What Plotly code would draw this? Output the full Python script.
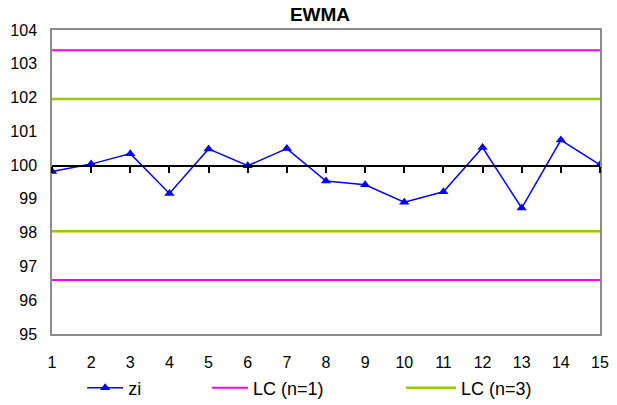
import plotly.graph_objects as go

# Sample index
samples = list(range(1, 16))

# EWMA statistic z_i
zi = [99.81, 100.03, 100.34, 99.16, 100.48, 99.98, 100.49, 99.53,
      99.42, 98.90, 99.21, 100.52, 98.73, 100.74, 100.01]

# Control limits
lc1_upper = [103.40] * 15
lc1_lower = [96.60] * 15
lc3_upper = [101.96] * 15
lc3_lower = [98.04] * 15

centre = 100
y_min, y_max = 95, 104
x_ticks = samples
y_ticks = list(range(95, 105))

FONT = "Liberation Sans, Arial, sans-serif"
MAGENTA = "#FF00FF"
LIME = "#99CC00"
BLUE = "#0000FF"
FRAME = "#8c8c8c"

centre_frac = (centre - y_min) / (y_max - y_min)

fig = go.Figure()

# Helper subplot whose bottom edge sits at y = 100: its x axis is the centre line with ticks
fig.add_trace(go.Scatter(
    x=samples, y=[centre] * 15, xaxis="x2", yaxis="y2", mode="lines",
    line=dict(color="rgba(0,0,0,0)"), showlegend=False, hoverinfo="skip",
))

fig.add_trace(go.Scatter(
    x=samples, y=lc1_upper, name="LC (n=1)", mode="lines",
    line=dict(color=MAGENTA, width=2), legendgroup="lc1", legend="legend2",
))
fig.add_trace(go.Scatter(
    x=samples, y=lc1_lower, name="LC (n=1)", mode="lines",
    line=dict(color=MAGENTA, width=2), legendgroup="lc1", showlegend=False,
))
fig.add_trace(go.Scatter(
    x=samples, y=lc3_upper, name="LC (n=3)", mode="lines",
    line=dict(color=LIME, width=2.5), legendgroup="lc3", legend="legend3",
))
fig.add_trace(go.Scatter(
    x=samples, y=lc3_lower, name="LC (n=3)", mode="lines",
    line=dict(color=LIME, width=2.5), legendgroup="lc3", showlegend=False,
))
fig.add_trace(go.Scatter(
    x=samples, y=zi, name="zi", mode="lines+markers",
    line=dict(color=BLUE, width=1.5),
    marker=dict(symbol="triangle-up", size=9, color=BLUE),
    legend="legend",
))

legend_common = dict(
    orientation="h", yanchor="middle", y=-0.178, xanchor="left",
    font=dict(family=FONT, size=18, color="black"),
    bgcolor="rgba(0,0,0,0)",
)

fig.update_layout(
    width=617, height=405,
    margin=dict(l=52, r=17, t=30, b=71, autoexpand=False),
    paper_bgcolor="white", plot_bgcolor="rgba(0,0,0,0)",
    font=dict(family=FONT, color="black"),
    title=dict(
        text="<b>EWMA</b>", x=320 / 617, xref="container", xanchor="center",
        y=1 - 14 / 405, yref="container", yanchor="middle",
        font=dict(family=FONT, size=19, color="black"),
    ),
    xaxis=dict(
        range=[1, 15], tickmode="array", tickvals=x_ticks, ticks="",
        showgrid=False, zeroline=False,
        showline=True, linecolor=FRAME, linewidth=1.5, mirror=True,
        tickfont=dict(family=FONT, size=16, color="black"),
        ticklabelstandoff=13,
    ),
    yaxis=dict(
        range=[y_min, y_max], tickmode="array", tickvals=y_ticks, ticks="",
        showgrid=False, zeroline=False,
        showline=True, linecolor=FRAME, linewidth=1.5, mirror=True,
        tickfont=dict(family=FONT, size=16, color="black"),
        ticklabelstandoff=10,
    ),
    xaxis2=dict(
        range=[1, 15], tickmode="array", tickvals=x_ticks,
        domain=[0, 1], anchor="y2", side="bottom",
        showline=True, linecolor="black", linewidth=1.5,
        ticks="outside", ticklen=6, tickwidth=1.5, tickcolor="black",
        showticklabels=False,
        showgrid=False, zeroline=False,
    ),
    yaxis2=dict(
        range=[centre, y_max], domain=[centre_frac, 1], anchor="x2",
        showticklabels=False, showline=False, ticks="",
        showgrid=False, zeroline=False,
    ),
    legend=dict(x=0.055, itemwidth=36, **legend_common),
    legend2=dict(x=0.2828, itemwidth=36, **legend_common),
    legend3=dict(x=0.637, itemwidth=50, **legend_common),
)

fig.write_html("out.html")
